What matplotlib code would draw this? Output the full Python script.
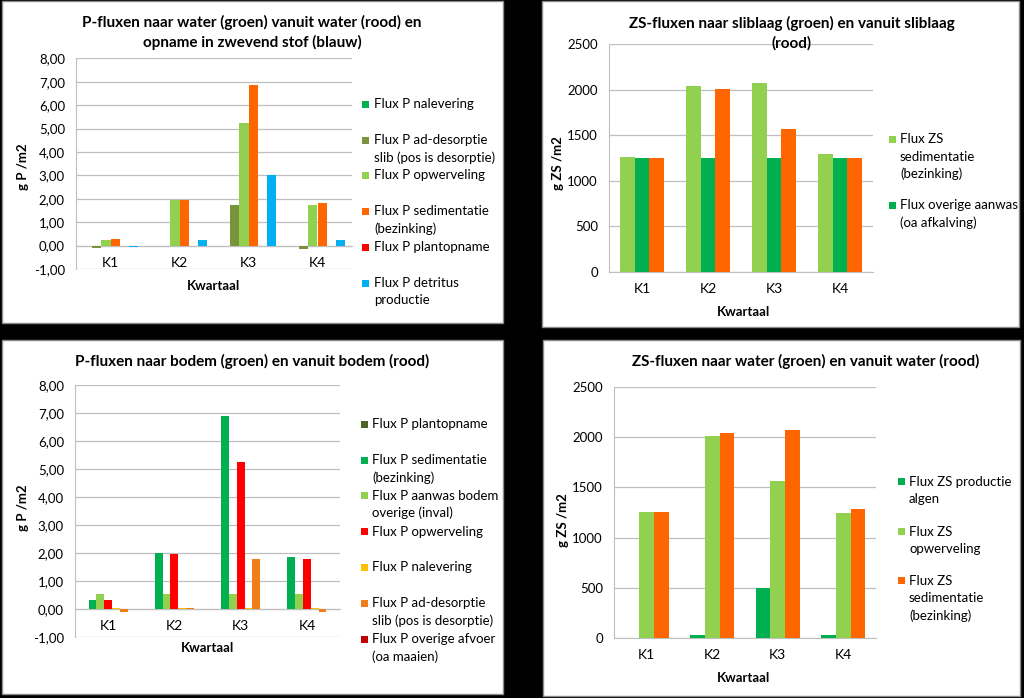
import numpy as np
import matplotlib
matplotlib.use('Agg')
import matplotlib.pyplot as plt
from matplotlib.patches import Rectangle

plt.rcParams['font.family'] = ['Lato', 'DejaVu Sans']

W, H = 1024, 698

cats = ['K1', 'K2', 'K3', 'K4']

# P-fluxen naar water
p1_labels = ['Flux P nalevering', 'Flux P ad-desorptie\nslib (pos is desorptie)', 'Flux P opwerveling',
             'Flux P sedimentatie\n(bezinking)', 'Flux P plantopname', 'Flux P detritus\nproductie']
p1_nalevering = [0.0, 0.0, 0.0, 0.0]
p1_addesorptie = [-0.10, -0.02, 1.74, -0.13]
p1_opwerveling = [0.26, 1.94, 5.22, 1.75]
p1_sedimentatie = [0.27, 1.96, 6.86, 1.81]
p1_plantopname = [0.0, 0.0, 0.0, 0.0]
p1_detritus = [-0.05, 0.23, 3.01, 0.23]

# ZS-fluxen naar sliblaag
p2_labels = ['Flux ZS\nsedimentatie\n(bezinking)', 'Flux overige aanwas\n(oa afkalving)']
p2_sedimentatie = [1258, 2043, 2070, 1290]
p2_aanwas = [1250, 1250, 1250, 1250]
p2_vanuit = [1255, 2005, 1570, 1247]

# P-fluxen naar bodem
p3_labels = ['Flux P plantopname', 'Flux P sedimentatie\n(bezinking)', 'Flux P aanwas bodem\noverige (inval)',
             'Flux P opwerveling', 'Flux P nalevering', 'Flux P ad-desorptie\nslib (pos is desorptie)',
             'Flux P overige afvoer\n(oa maaien)']
p3_plantopname = [0.0, 0.0, 0.0, 0.0]
p3_sedimentatie = [0.30, 2.01, 6.90, 1.84]
p3_aanwas = [0.54, 0.53, 0.53, 0.53]
p3_opwerveling = [0.30, 1.97, 5.24, 1.78]
p3_nalevering = [0.03, 0.02, 0.02, 0.03]
p3_addesorptie = [-0.10, 0.02, 1.77, -0.13]
p3_afvoer = [0.0, 0.0, 0.0, 0.0]

# ZS-fluxen naar water
p4_labels = ['Flux ZS productie\nalgen', 'Flux ZS\nopwerveling', 'Flux ZS\nsedimentatie\n(bezinking)']
p4_algen = [0, 30, 497, 30]
p4_opwerveling = [1251, 2008, 1566, 1246]
p4_sedimentatie = [1258, 2043, 2066, 1284]

p_ticks = [-1, 0, 1, 2, 3, 4, 5, 6, 7, 8]
zs_ticks = [0, 500, 1000, 1500, 2000, 2500]

GRID = '#bfbfbf'
FS = 9.5


def fx(x):
    return x / W


def fy(y):
    return 1 - y / H


fig = plt.figure(figsize=(W / 100, H / 100), dpi=100, facecolor='black')

for x0, y0, x1, y1 in [(2, 1, 503, 323), (542, 1, 1019, 327), (2, 340, 503, 694), (543, 340, 1020, 696)]:
    fig.add_artist(Rectangle((fx(x0), fy(y1)), (x1 - x0) / W, (y1 - y0) / H, transform=fig.transFigure,
                             facecolor='white', edgecolor='#8c8c8c', lw=1, zorder=-5))


def make_ax(x0, x1, ytop, ybot, series, colors, ticks, ticklabels):
    ax = fig.add_axes([fx(x0), fy(ybot), (x1 - x0) / W, (ybot - ytop) / H])
    n = len(series)
    w = 1 / (n + 1.5)
    x = np.arange(len(cats))
    for i, (vals, c) in enumerate(zip(series, colors)):
        ax.bar(x + (i - (n - 1) / 2) * w, vals, width=w, color=c, zorder=3)
    ax.set_xlim(-0.5, len(cats) - 0.5)
    ax.set_ylim(ticks[0], ticks[-1])
    ax.set_yticks(ticks)
    ax.set_yticklabels(ticklabels, fontsize=FS)
    ax.set_xticks(x)
    ax.set_xticklabels(cats, fontsize=FS)
    ax.grid(axis='y', color=GRID, lw=0.9, zorder=0)
    ax.spines['top'].set_visible(False)
    ax.spines['right'].set_visible(False)
    ax.spines['left'].set_color(GRID)
    ax.spines['bottom'].set_color(GRID)
    ax.spines['bottom'].set_position(('data', 0))
    ax.tick_params(length=0)
    ax.tick_params(axis='y', pad=8)
    ax.tick_params(axis='x', pad=8)
    return ax


def legend(labels, colors, xm, xt, ys, step=17.3):
    for lab, c, y in zip(labels, colors, ys):
        fig.add_artist(Rectangle((fx(xm), fy(y + 3.5)), 7 / W, 7 / H, transform=fig.transFigure,
                                 facecolor=c, edgecolor='none'))
        for k, line in enumerate(lab.split('\n')):
            fig.text(fx(xt), fy(y + k * step), line, fontsize=FS, ha='left', va='center')


def title(lines, xc, y0, step=20):
    for k, line in enumerate(lines):
        fig.text(fx(xc), fy(y0 + k * step), line, fontsize=11, fontweight='bold', ha='center', va='center')


def labels(xl, yl, xx, xy):
    fig.text(fx(xl[0]), fy(xl[1]), xl[2], fontsize=FS, fontweight='bold', rotation=90, ha='center', va='center')
    fig.text(fx(xx), fy(xy), 'Kwartaal', fontsize=FS, fontweight='bold', ha='center', va='center')


p_ticklabels = [f'{v:.2f}'.replace('.', ',') for v in p_ticks]
zs_ticklabels = [str(v) for v in zs_ticks]

# panel 1
c1 = ['#00b050', '#77933c', '#92d050', '#ff6600', '#ff0000', '#00b0f0']
make_ax(76, 352, 58.3, 269, [p1_nalevering, p1_addesorptie, p1_opwerveling, p1_sedimentatie,
                             p1_plantopname, p1_detritus], c1, p_ticks, p_ticklabels)
title(['P-fluxen naar water (groen) vanuit water (rood) en', 'opname in zwevend stof (blauw)'], 252, 22)
labels((23, 167, 'g P /m2'), None, 213, 286)
legend(p1_labels, c1, 362, 374, [104, 140, 175, 211, 247, 283])

# panel 2
c2 = ['#92d050', '#00b050', '#ff6600']
make_ax(609, 873, 44.3, 271.7, [p2_sedimentatie, p2_aanwas, p2_vanuit], c2, zs_ticks, zs_ticklabels)
title(['ZS-fluxen naar sliblaag (groen) en vanuit sliblaag', '(rood)'], 792, 23)
labels((558, 163, 'g ZS /m2'), None, 743, 311.7)
legend(p2_labels, c2[:2], 889, 900, [139.3, 205])

# panel 3
c3 = ['#4f6228', '#00b050', '#92d050', '#ff0000', '#ffc000', '#f07d1a', '#c00000']
make_ax(75, 340, 385, 636.7, [p3_plantopname, p3_sedimentatie, p3_aanwas, p3_opwerveling,
                              p3_nalevering, p3_addesorptie, p3_afvoer], c3, p_ticks, p_ticklabels)
title(['P-fluxen naar bodem (groen) en vanuit bodem (rood)'], 252, 361.7)
labels((23, 508, 'g P /m2'), None, 207, 648.3)
legend(p3_labels, c3, 361, 372, [424, 460, 495.7, 531.7, 567.3, 603.3, 639])

# panel 4
c4 = ['#00b050', '#92d050', '#ff6600']
make_ax(614, 876, 386.7, 638.3, [p4_algen, p4_opwerveling, p4_sedimentatie], c4, zs_ticks, zs_ticklabels)
title(['ZS-fluxen naar water (groen) en vanuit water (rood)'], 806, 361.7)
labels((563, 520, 'g ZS /m2'), None, 744, 678.3)
legend(p4_labels, c4, 898, 909, [481.7, 531.7, 580.7])

fig.savefig('out.png', dpi=100, facecolor='black')
